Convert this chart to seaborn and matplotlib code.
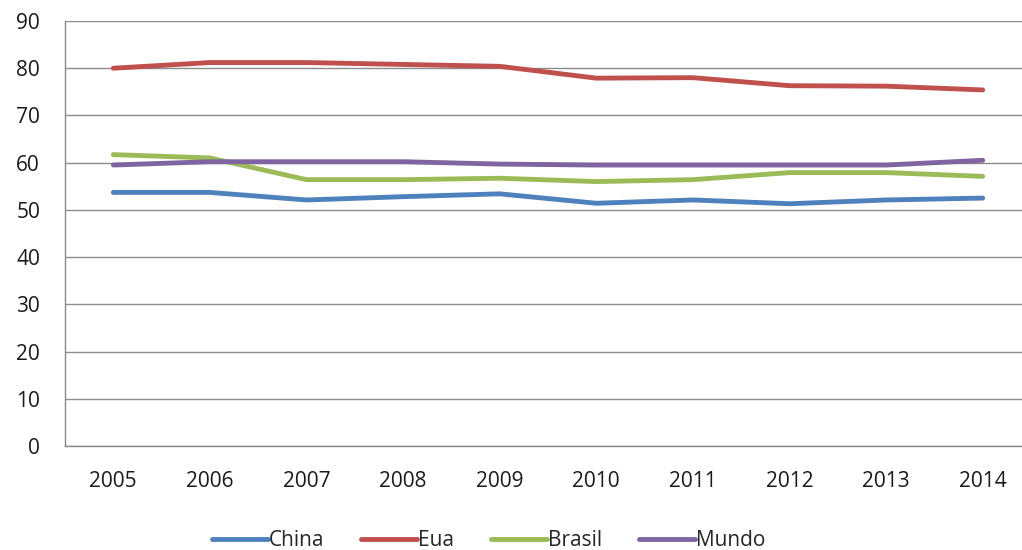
import matplotlib
matplotlib.use("Agg")
import matplotlib.pyplot as plt
import seaborn as sns
import pandas as pd

years = ["2005", "2006", "2007", "2008", "2009", "2010", "2011", "2012", "2013", "2014"]
china = [53.7, 53.7, 52.1, 52.8, 53.4, 51.4, 52.1, 51.3, 52.1, 52.5]
eua = [80.0, 81.2, 81.2, 80.8, 80.4, 77.9, 78.0, 76.3, 76.2, 75.4]
brasil = [61.7, 61.0, 56.4, 56.4, 56.7, 56.0, 56.4, 57.9, 57.9, 57.1]
mundo = [59.5, 60.2, 60.2, 60.2, 59.7, 59.5, 59.5, 59.5, 59.5, 60.5]
series_names = ["China", "Eua", "Brasil", "Mundo"]
colors = ["#4F81BD", "#C0504D", "#9BBB59", "#8064A2"]
yticks = [0, 10, 20, 30, 40, 50, 60, 70, 80, 90]

rows = []
for name, vals in zip(series_names, [china, eua, brasil, mundo]):
    for y, v in zip(years, vals):
        rows.append({"Ano": y, "Valor": v, "Série": name})
df = pd.DataFrame(rows)

sns.set_style("white")
plt.rcParams['font.family'] = ['Open Sans', 'DejaVu Sans']

fig = plt.figure(figsize=(10.22, 5.5), dpi=100)
ax = fig.add_axes([65/1022, 104/550, 966/1022, 425/550])

sns.lineplot(data=df, x="Ano", y="Valor", hue="Série", hue_order=series_names,
             palette=colors, linewidth=3.5, ax=ax, legend=False, sort=False)

ax.set_xlim(-0.5, len(years) - 0.5)
ax.set_ylim(0, 90)
ax.set_yticks(yticks)
ax.set_yticklabels([str(t) for t in yticks])
ax.set_xticks(range(len(years)))
ax.set_xticklabels(years)
ax.set_xticks([i - 0.5 for i in range(len(years) + 1)], minor=True)
ax.tick_params(axis='x', which='major', length=0, pad=18, labelsize=15, colors='#1a1a1a')
ax.tick_params(axis='x', which='minor', length=7, width=1, color='#888888', direction='out')
ax.tick_params(axis='y', length=7, width=1, color='#888888', direction='out', labelsize=15,
               pad=11, colors='#1a1a1a')
ax.yaxis.grid(True, color='#8c8c8c', linewidth=1)
ax.set_axisbelow(True)
for s in ['top', 'right']:
    ax.spines[s].set_visible(False)
for s in ['left', 'bottom']:
    ax.spines[s].set_color('#888888')
    ax.spines[s].set_linewidth(1)
ax.set_xlabel("")
ax.set_ylabel("")

from matplotlib.lines import Line2D
handles = [Line2D([0], [0], color=c, linewidth=3.5) for c in colors]
fig.legend(handles, series_names, loc='center', bbox_to_anchor=(0.478, 1 - 541/550),
           ncol=4, frameon=False, fontsize=15, handlelength=2.7, handletextpad=0.05,
           columnspacing=1.75)

fig.savefig("out.png", dpi=100)
